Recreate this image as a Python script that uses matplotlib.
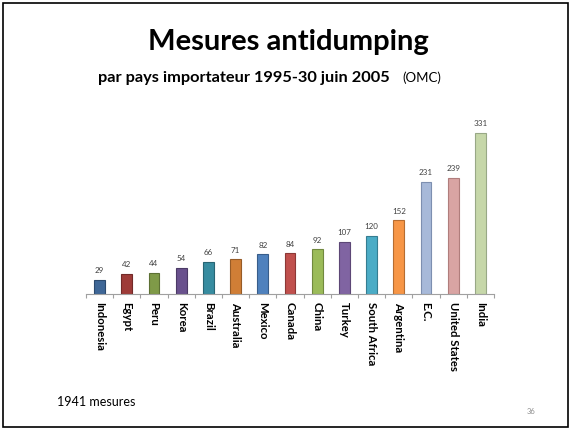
import matplotlib

matplotlib.use("Agg")
import matplotlib.pyplot as plt
from matplotlib.patches import Rectangle

countries = ["Indonesia", "Egypt", "Peru", "Korea", "Brazil", "Australia", "Mexico",
             "Canada", "China", "Turkey", "South Africa", "Argentina", "E.C.",
             "United States", "India"]
mesures = [29, 42, 44, 54, 66, 71, 82, 84, 92, 107, 120, 152, 231, 239, 331]
bar_colors = ["#3f6797", "#9e3b38", "#7f9a48", "#69518d", "#378ca0", "#d07e36",
              "#4f81bd", "#c0504d", "#9bbb59", "#8064a2", "#4bacc6", "#f79646",
              "#a7b9d9", "#d9a4a3", "#c6d7a9"]
edge_colors = ["#2c4a6e", "#722a28", "#5c7034", "#4b3a66", "#286574", "#965b27",
               "#385d8a", "#8c3836", "#71893f", "#5c4776", "#357d91", "#b66d31",
               "#7d8fb0", "#b07d7c", "#98a886"]

plt.rcParams["font.family"] = ["Lato", "DejaVu Sans"]

W, H = 572, 430
fig = plt.figure(figsize=(W / 100, H / 100), dpi=100)

# slide frame
fig.patches.append(Rectangle((3 / W, 3 / H), 565 / W, 424 / H, transform=fig.transFigure,
                             fill=False, edgecolor="black", linewidth=1.2))

fig.text(288 / W, 1 - 42 / H, "Mesures antidumping", ha="center", va="center",
         fontsize=21, fontweight="bold")
fig.text(98 / W, 1 - 78 / H, "par pays importateur 1995-30 juin 2005", ha="left",
         va="center", fontsize=11.8, fontweight="bold")
fig.text(402 / W, 1 - 78 / H, "(OMC)", ha="left", va="center", fontsize=9.5)
fig.text(57 / W, 1 - 402 / H, "1941 mesures", ha="left", va="center", fontsize=9)
fig.text(527 / W, 1 - 411 / H, "36", ha="left", va="center", fontsize=5.5, color="#8c8c8c")

ymax = 350
px_per_unit = 161 / 331
base_y = 294
ax = fig.add_axes([86 / W, (H - base_y) / H, 408 / W, ymax * px_per_unit / H])

x = list(range(len(countries)))
ax.bar(x, mesures, width=0.4, color=bar_colors, edgecolor=edge_colors, linewidth=0.8)
for xi, v in zip(x, mesures):
    ax.annotate(str(v), (xi, v), xytext=(0, 4), textcoords="offset points",
                ha="center", va="bottom", fontsize=5.8, color="#404040")

ax.set_xlim(-0.5, len(countries) - 0.5)
ax.set_ylim(0, ymax)
for side in ["top", "right", "left"]:
    ax.spines[side].set_visible(False)
ax.spines["bottom"].set_color("#a0a0a0")
ax.set_yticks([])
ax.set_xticks([k - 0.5 for k in range(len(countries) + 1)])
ax.set_xticklabels([])
ax.tick_params(axis="x", length=3, color="#a0a0a0", direction="out")

for xi, name in zip(x, countries):
    ax.annotate(name, (xi, 0), xytext=(0, -6), textcoords="offset points",
                rotation=-90, ha="center", va="top", fontsize=8.2, fontweight="bold")

fig.savefig("out.png", dpi=100)
